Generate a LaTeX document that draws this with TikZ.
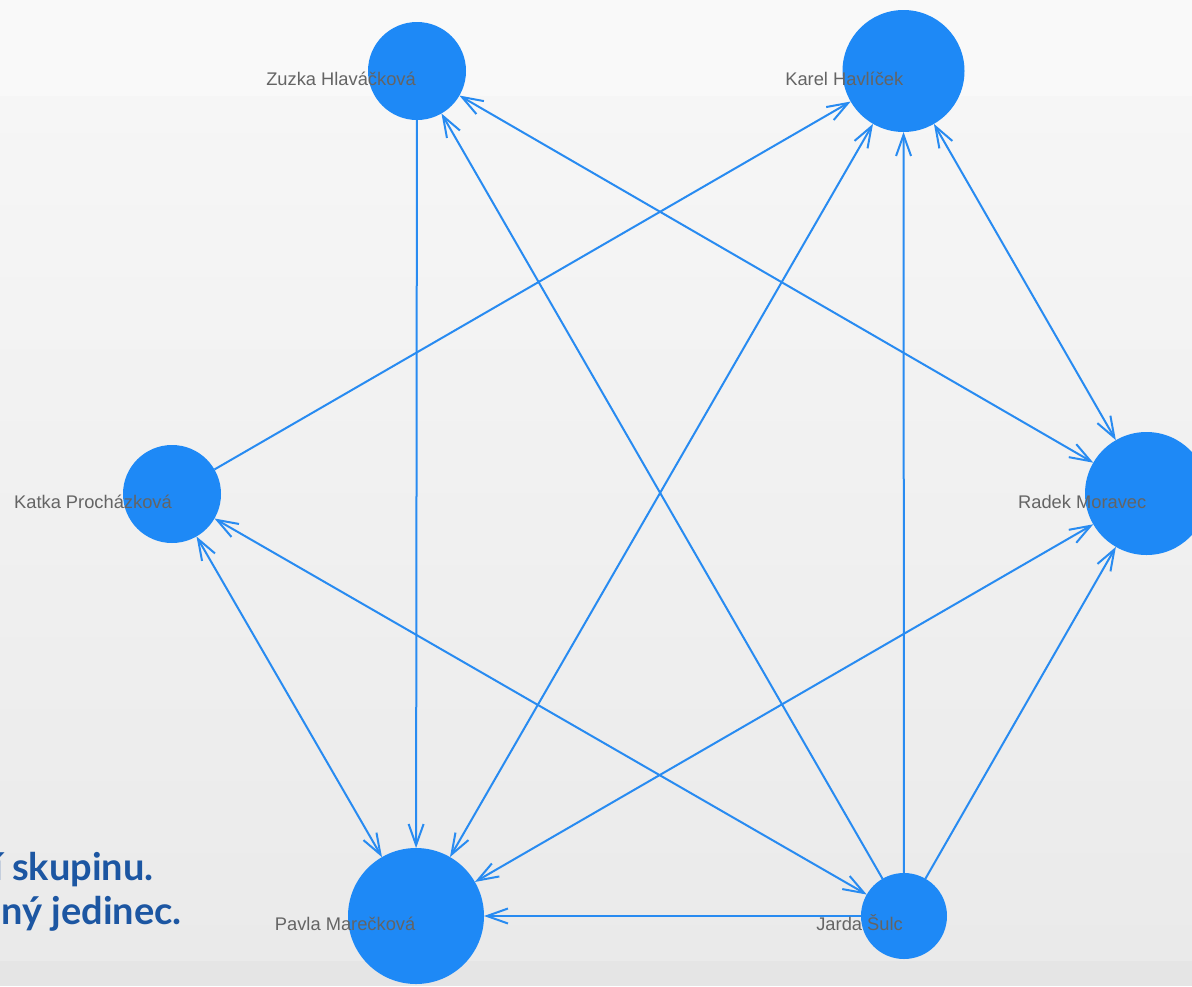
\documentclass[tikz,border=0pt]{standalone}
\usepackage{fontspec}
\setmainfont{Liberation Sans}
\newfontfamily\titlefont{Lato}
\usetikzlibrary{arrows.meta}
\definecolor{nodeblue}{RGB}{30,137,246}
\definecolor{edgeblue}{RGB}{40,139,241}
\definecolor{labelgray}{RGB}{100,100,100}
\definecolor{titleblue}{RGB}{28,86,162}
\definecolor{bgtop}{RGB}{249,249,249}
\definecolor{bgmid}{RGB}{246,246,246}
\definecolor{bgbot}{RGB}{234,234,234}
\definecolor{bgband}{RGB}{229,229,229}
\tikzset{
  person/.style={circle, fill=nodeblue, draw=none, inner sep=0pt, outer sep=0pt},
  lbl/.style={anchor=base east, inner sep=0pt, text=labelgray, font=\fontsize{18.3}{21}\selectfont},
  tip/.tip={Straight Barb[length=21pt,width=15pt]},
  link/.style={draw=edgeblue, line width=2pt},
  arr/.style={link, -tip},
  both/.style={link, tip-tip},
  title/.style={anchor=base east, inner sep=0pt, text=titleblue, font=\titlefont\bfseries\fontsize{38}{43}\selectfont}
}
\begin{document}
\begin{tikzpicture}[x=1pt,y=-1pt]
\useasboundingbox (0,0) rectangle (1192,986);
\clip (0,0) rectangle (1192,986);
% background
\fill[bgtop] (0,0) rectangle (1192,96);
\shade[top color=bgmid, bottom color=bgbot] (0,96) rectangle (1192,961);
\fill[bgband] (0,961) rectangle (1192,986);
% title fragment
\node[title] (t1) at (154,880) {í skupinu.};
\node[title] (t2) at (182,924) {ný jedinec.};
% nodes
\node[person, minimum size=98pt]  (zuzka) at (417,71) {};
\node[person, minimum size=122pt] (karel) at (903.5,71) {};
\node[person, minimum size=98pt]  (katka) at (172,494) {};
\node[person, minimum size=123pt] (radek) at (1146.5,493.5) {};
\node[person, minimum size=136pt] (pavla) at (416,916) {};
\node[person, minimum size=86pt]  (jarda) at (904,916) {};
% edges
\draw[arr]  (zuzka) -- (pavla);
\draw[both] (zuzka) -- (radek);
\draw[arr]  (katka) -- (karel);
\draw[both] (katka) -- (pavla);
\draw[both] (katka) -- (jarda);
\draw[arr]  (jarda) -- (zuzka);
\draw[arr]  (jarda) -- (karel);
\draw[arr]  (jarda) -- (radek);
\draw[arr]  (jarda) -- (pavla);
\draw[both] (karel) -- (radek);
\draw[both] (karel) -- (pavla);
\draw[both] (radek) -- (pavla);
% labels
\node[lbl] (lzuzka) at (416,85.5) {Zuzka Hlaváčková};
\node[lbl] (lkarel) at (903.5,85.5) {Karel Havlíček};
\node[lbl] (lkatka) at (172,508.5) {Katka Procházková};
\node[lbl] (lradek) at (1146.5,508) {Radek Moravec};
\node[lbl] (lpavla) at (415.5,930.5) {Pavla Marečková};
\node[lbl] (ljarda) at (903,930.5) {Jarda Šulc};
\end{tikzpicture}
\end{document}
